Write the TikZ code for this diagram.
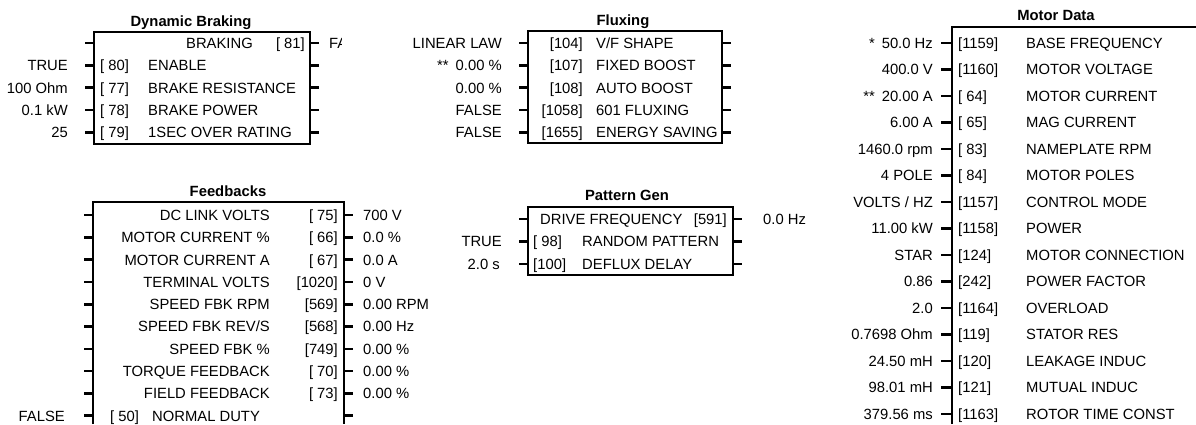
\documentclass[tikz,border=0pt]{standalone}
\usepackage{fontspec}
\setmainfont{Liberation Sans}
\newcommand{\blkfont}{\fontsize{14.8}{18}\selectfont}
\newcommand{\stargap}{\hspace{7pt}}

\begin{document}
\begin{tikzpicture}[x=1pt,y=-1pt,
  txt/.style={inner sep=0pt,font=\blkfont},
  ttl/.style={inner sep=0pt,font=\blkfont\bfseries,anchor=base},
  blk/.style={line width=1.8pt},
  pin/.style={line width=2.6pt}]
  \useasboundingbox (0,0) rectangle (1196,424);
  % Parameters for the blocks
  \def\dy{22.3} % row pitch of the small blocks
  \def\dm{26.5} % row pitch of motor data
  \def\bl{5.4} % baseline sits this far below a row centre

  % Dynamic Braking
  \node[ttl] (db-title) at (191,26) {Dynamic Braking};
  \draw[blk] (94,32) rectangle (310,144);
  \foreach \i in {0,...,4} {
    \draw[pin] (85,43+\i*\dy) -- (94,43+\i*\dy);
    \draw[pin] (310,43+\i*\dy) -- (319,43+\i*\dy);
  }
  \node[txt,anchor=base east] (db-name0) at (253,43+\bl) {BRAKING};
  \node[txt,anchor=base east] (db-par0) at (305,43+\bl) {[ 81]};
  \begin{scope}
    \clip (320,30) rectangle (341,60);
    \node[txt,anchor=base west] (db-out0) at (329,43+\bl) {FALSE};
  \end{scope}
  \foreach \i/\v/\p/\n in {1/TRUE/[ 80]/ENABLE,
      2/100 Ohm/[ 77]/BRAKE RESISTANCE,
      3/{0.1 kW\ }/[ 78]/BRAKE POWER,
      4/25/[ 79]/1SEC OVER RATING} {
    \node[txt,anchor=base east] (db-val\i) at (68,43+\i*\dy+\bl) {\v};
    \node[txt,anchor=base west] (db-par\i) at (100,43+\i*\dy+\bl) {\p};
    \node[txt,anchor=base west] (db-name\i) at (148,43+\i*\dy+\bl) {\n};
  }

  % Fluxing
  \node[ttl] (fx-title) at (623,25.4) {Fluxing};
  \draw[blk] (528,31) rectangle (722,143);
  \foreach \i/\v/\p/\n in {0/LINEAR LAW/[104]/{V/F SHAPE},
      1/{**\stargap0.00 \%}/[107]/FIXED BOOST,
      2/0.00 \%/[108]/AUTO BOOST,
      3/FALSE/[1058]/601 FLUXING,
      4/FALSE/[1655]/ENERGY SAVING} {
    \draw[pin] (519,43+\i*\dy) -- (528,43+\i*\dy);
    \draw[pin] (722,43+\i*\dy) -- (731,43+\i*\dy);
    \node[txt,anchor=base east] (fx-val\i) at (502,43+\i*\dy+\bl) {\v};
    \node[txt,anchor=base east] (fx-par\i) at (583,43+\i*\dy+\bl) {\p};
    \node[txt,anchor=base west] (fx-name\i) at (596,43+\i*\dy+\bl) {\n};
  }

  % Feedbacks
  \node[ttl] (fb-title) at (228,196) {Feedbacks};
  \draw[blk] (93,424) -- (93,202) -- (344,202) -- (344,424);
  \foreach \i/\n/\p/\o in {0/DC LINK VOLTS/[ 75]/700 V,
      1/MOTOR CURRENT \%/[ 66]/0.0 \%,
      2/MOTOR CURRENT A/[ 67]/0.0 A,
      3/TERMINAL VOLTS/[1020]/0 V,
      4/SPEED FBK RPM/[569]/0.00 RPM,
      5/{SPEED FBK REV/S}/[568]/0.00 Hz,
      6/SPEED FBK \%/[749]/0.00 \%,
      7/TORQUE FEEDBACK/[ 70]/0.00 \%,
      8/FIELD FEEDBACK/[ 73]/0.00 \%} {
    \node[txt,anchor=base east] (fb-name\i) at (270,215+\i*\dy+\bl) {\n};
    \node[txt,anchor=base east] (fb-par\i) at (338,215+\i*\dy+\bl) {\p};
    \node[txt,anchor=base west] (fb-out\i) at (363,215+\i*\dy+\bl) {\o};
  }
  \foreach \i in {0,...,9} {
    \draw[pin] (84,215+\i*\dy) -- (93,215+\i*\dy);
    \draw[pin] (344,215+\i*\dy) -- (353,215+\i*\dy);
  }
  \node[txt,anchor=base east] (fb-val9) at (65,215+9*\dy+\bl) {FALSE};
  \node[txt,anchor=base west] (fb-par9) at (110,215+9*\dy+\bl) {[ 50]};
  \node[txt,anchor=base west] (fb-name9) at (152,215+9*\dy+\bl) {NORMAL DUTY};

  % Pattern Gen
  \node[ttl] (pg-title) at (627,200.4) {Pattern Gen};
  \draw[blk] (528,207) rectangle (733,275);
  \foreach \y in {219,241.5,264} {
    \draw[pin] (519,\y) -- (528,\y);
    \draw[pin] (733,\y) -- (742,\y);
  }
  \node[txt,anchor=base west] (pg-name0) at (540,219+\bl) {DRIVE FREQUENCY};
  \node[txt,anchor=base east] (pg-par0) at (727,219+\bl) {[591]};
  \node[txt,anchor=base west] (pg-out0) at (763,219+\bl) {0.0 Hz};
  \node[txt,anchor=base east] (pg-val1) at (502,241.5+\bl) {TRUE};
  \node[txt,anchor=base west] (pg-par1) at (533,241.5+\bl) {[ 98]};
  \node[txt,anchor=base west] (pg-name1) at (582,241.5+\bl) {RANDOM PATTERN};
  \node[txt,anchor=base east] (pg-val2) at (500,264+\bl) {2.0 s};
  \node[txt,anchor=base west] (pg-par2) at (533,264+\bl) {[100]};
  \node[txt,anchor=base west] (pg-name2) at (582,264+\bl) {DEFLUX DELAY};

  % Motor Data
  \node[ttl] (md-title) at (1056,20.4) {Motor Data};
  \draw[blk] (952,424) -- (952,27) -- (1196,27);
  \foreach \i/\v/\p/\n in {0/{*\stargap50.0 Hz}/[1159]/BASE FREQUENCY,
      1/400.0 V/[1160]/MOTOR VOLTAGE,
      2/{**\stargap20.00 A}/[ 64]/MOTOR CURRENT,
      3/6.00 A/[ 65]/MAG CURRENT,
      4/1460.0 rpm/[ 83]/NAMEPLATE RPM,
      5/4 POLE/[ 84]/MOTOR POLES,
      6/{VOLTS / HZ}/[1157]/CONTROL MODE,
      7/11.00 kW/[1158]/POWER,
      8/STAR/[124]/MOTOR CONNECTION,
      9/0.86/[242]/POWER FACTOR,
      10/2.0/[1164]/OVERLOAD,
      11/{0.7698 Ohm\ }/[119]/STATOR RES,
      12/{24.50 mH\ }/[120]/LEAKAGE INDUC,
      13/{98.01 mH\ }/[121]/MUTUAL INDUC,
      14/{379.56 ms\ }/[1163]/ROTOR TIME CONST} {
    \draw[pin] (941,43+\i*\dm) -- (952,43+\i*\dm);
    \node[txt,anchor=base east] (md-val\i) at (933,43+\i*\dm+\bl) {\v};
    \node[txt,anchor=base west] (md-par\i) at (958,43+\i*\dm+\bl) {\p};
    \node[txt,anchor=base west] (md-name\i) at (1026,43+\i*\dm+\bl) {\n};
  }
\end{tikzpicture}
\end{document}
